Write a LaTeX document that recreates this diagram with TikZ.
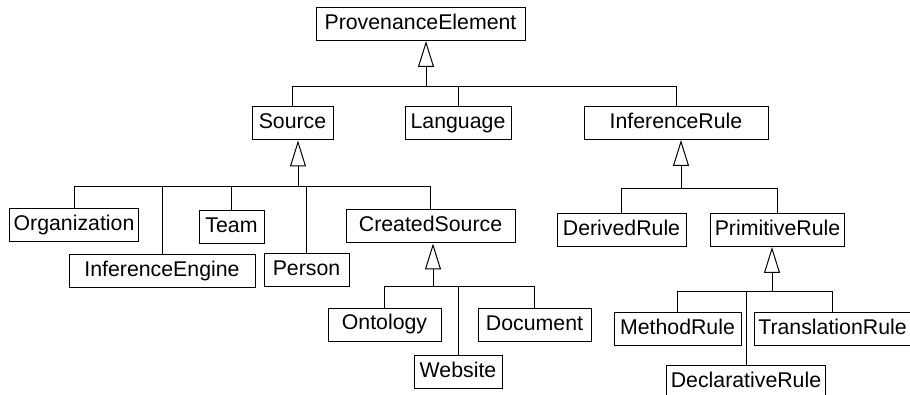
\documentclass[tikz,border=0pt]{standalone}
\usepackage{fontspec}
\setmainfont{Liberation Sans}
\usetikzlibrary{arrows.meta}

\tikzset{
  cls/.style={draw, line width=1pt, inner xsep=4pt, inner ysep=0pt,
    minimum height=33pt, text height=15.5pt, text depth=4.5pt,
    font=\fontsize{21.3}{24}\selectfont},
  link/.style={line width=1pt},
  gen/.style={link, -{Triangle[open,length=26pt,width=16pt,fill=white]}}
}

\begin{document}
\begin{tikzpicture}[x=1pt,y=-1pt]
            \useasboundingbox (0,0) rectangle (910,395);
            \path 
            (420.5,24)   node[cls,minimum width=209pt] (PE) {ProvenanceElement}
            (292.5,123.5) node[cls,minimum width=81pt] (Src) {Source}
            (458,123.5)  node[cls,minimum width=106pt] (Lang) {Language}
            (676,123)    node[cls,minimum width=184pt] (IR) {InferenceRule}
            (74,225.5)   node[cls,minimum width=128pt] (Org) {Organization}
            (231.5,227.5) node[cls,minimum width=65pt] (Team) {Team}
            (162,271)    node[cls,minimum width=186pt] (IE) {InferenceEngine}
            (306.5,270)  node[cls,minimum width=85pt] (Pers) {Person}
            (430.5,226.5) node[cls,minimum width=169pt] (CS) {CreatedSource}
            (384.5,324.5) node[cls,minimum width=113pt] (Onto) {Ontology}
            (458,372)    node[cls,minimum width=88pt] (Web) {Website}
            (534.5,325)  node[cls,minimum width=113pt] (Doc) {Document}
            (621.5,230)  node[cls,minimum width=129pt] (DR) {DerivedRule}
            (777.5,230)  node[cls,minimum width=129pt] (PR) {PrimitiveRule}
            (677.5,329)  node[cls,minimum width=127pt] (MR) {MethodRule}
            (832.5,329)  node[cls,minimum width=149pt] (TR) {TranslationRule}
            (746,382)    node[cls,minimum width=156pt] (DecR) {DeclarativeRule};
            % branch points under each superclass
            \coordinate (peJ) at (426,87);
            \coordinate (srcJ) at (298,187);
            \coordinate (csJ) at (433,287);
            \coordinate (irJ) at (681,189);
            \coordinate (prJ) at (772,292);
            \draw[gen] (peJ)--(peJ |- PE.south);
            \draw[gen] (srcJ)--(srcJ |- Src.south);
            \draw[gen] (csJ)--(csJ |- CS.south);
            \draw[gen] (irJ)--(irJ |- IR.south);
            \draw[gen] (prJ)--(prJ |- PR.south);
            \draw[link] (Src.north) |- (peJ);
            \draw[link] (Lang.north) |- (peJ);
            \draw[link] (IR.north) |- (peJ);
            \draw[link] (Org.north) |- (srcJ);
            \draw[link] (IE.north) |- (srcJ);
            \draw[link] (Team.north) |- (srcJ);
            \draw[link] (Pers.north) |- (srcJ);
            \draw[link] (CS.north) |- (srcJ);
            \draw[link] (Onto.north) |- (csJ);
            \draw[link] (Web.north) |- (csJ);
            \draw[link] (Doc.north) |- (csJ);
            \draw[link] (DR.north) |- (irJ);
            \draw[link] (PR.north) |- (irJ);
            \draw[link] (MR.north) |- (prJ);
            \draw[link] (DecR.north) |- (prJ);
            \draw[link] (TR.north) |- (prJ);
            \end{tikzpicture}
\end{document}
